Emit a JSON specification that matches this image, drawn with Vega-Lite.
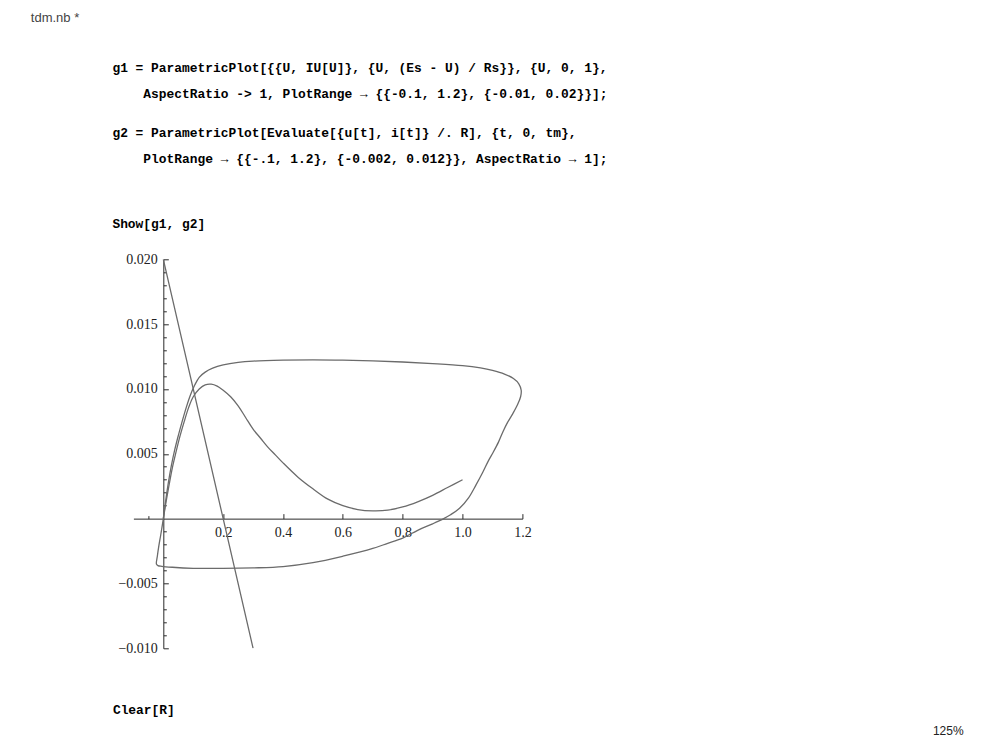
{
  "$schema": "https://vega.github.io/schema/vega-lite/v6.json",
  "width": 389,
  "height": 389,
  "autosize": {"type": "none"},
  "padding": {"left": 133.4, "top": 259.3, "right": 460.6, "bottom": 93.7},
  "background": "#ffffff",
  "config": {"view": {"stroke": null}},
  "title": {
    "text": [
      "g1 = ParametricPlot[{{U, IU[U]}, {U, (Es - U) / Rs}}, {U, 0, 1},",
      "\u200b",
      "\u200b\u00a0\u00a0\u00a0\u00a0AspectRatio -> 1, PlotRange → {{-0.1, 1.2}, {-0.01, 0.02}}];",
      "\u200b",
      "\u200b",
      "g2 = ParametricPlot[Evaluate[{u[t], i[t]} /. R], {t, 0, tm},",
      "\u200b",
      "\u200b\u00a0\u00a0\u00a0\u00a0PlotRange → {{-.1, 1.2}, {-0.002, 0.012}}, AspectRatio → 1];",
      "\u200b",
      "\u200b",
      "\u200b",
      "\u200b",
      "Show[g1, g2]"
    ],
    "anchor": "start",
    "frame": "group",
    "dx": -21,
    "offset": -220,
    "font": "Liberation Mono",
    "fontSize": 12.9,
    "fontWeight": "bold",
    "color": "#000000",
    "lineHeight": 13
  },
  "datasets": {
    "curves": [
      {"series": "g1", "i": 0, "u": 0, "current": 0},
      {"series": "g1", "i": 1, "u": 0.01, "current": 0.0014},
      {"series": "g1", "i": 2, "u": 0.02, "current": 0.0027},
      {"series": "g1", "i": 3, "u": 0.03, "current": 0.0039},
      {"series": "g1", "i": 4, "u": 0.04, "current": 0.0049},
      {"series": "g1", "i": 5, "u": 0.055, "current": 0.0063},
      {"series": "g1", "i": 6, "u": 0.07, "current": 0.0075},
      {"series": "g1", "i": 7, "u": 0.085, "current": 0.0086},
      {"series": "g1", "i": 8, "u": 0.1, "current": 0.0094},
      {"series": "g1", "i": 9, "u": 0.12, "current": 0.01},
      {"series": "g1", "i": 10, "u": 0.14, "current": 0.01032},
      {"series": "g1", "i": 11, "u": 0.16, "current": 0.01037},
      {"series": "g1", "i": 12, "u": 0.18, "current": 0.01022},
      {"series": "g1", "i": 13, "u": 0.2, "current": 0.0099},
      {"series": "g1", "i": 14, "u": 0.225, "current": 0.0094},
      {"series": "g1", "i": 15, "u": 0.25, "current": 0.0087},
      {"series": "g1", "i": 16, "u": 0.275, "current": 0.0078},
      {"series": "g1", "i": 17, "u": 0.3, "current": 0.0069},
      {"series": "g1", "i": 18, "u": 0.325, "current": 0.0062},
      {"series": "g1", "i": 19, "u": 0.35, "current": 0.0055},
      {"series": "g1", "i": 20, "u": 0.375, "current": 0.0049},
      {"series": "g1", "i": 21, "u": 0.4, "current": 0.0043},
      {"series": "g1", "i": 22, "u": 0.45, "current": 0.0032},
      {"series": "g1", "i": 23, "u": 0.5, "current": 0.0023},
      {"series": "g1", "i": 24, "u": 0.55, "current": 0.0015},
      {"series": "g1", "i": 25, "u": 0.6, "current": 0.001},
      {"series": "g1", "i": 26, "u": 0.65, "current": 0.0007},
      {"series": "g1", "i": 27, "u": 0.7, "current": 0.0006},
      {"series": "g1", "i": 28, "u": 0.75, "current": 0.00065},
      {"series": "g1", "i": 29, "u": 0.8, "current": 0.0009},
      {"series": "g1", "i": 30, "u": 0.85, "current": 0.0013},
      {"series": "g1", "i": 31, "u": 0.9, "current": 0.0018},
      {"series": "g1", "i": 32, "u": 0.95, "current": 0.0024},
      {"series": "g1", "i": 33, "u": 1.0, "current": 0.003},
      {"series": "g2", "i": 0, "u": 0, "current": 0},
      {"series": "g2", "i": 1, "u": 0.008, "current": 0.0014},
      {"series": "g2", "i": 2, "u": 0.017, "current": 0.0028},
      {"series": "g2", "i": 3, "u": 0.027, "current": 0.0041},
      {"series": "g2", "i": 4, "u": 0.038, "current": 0.0053},
      {"series": "g2", "i": 5, "u": 0.05, "current": 0.0064},
      {"series": "g2", "i": 6, "u": 0.063, "current": 0.0075},
      {"series": "g2", "i": 7, "u": 0.077, "current": 0.0086},
      {"series": "g2", "i": 8, "u": 0.09, "current": 0.0095},
      {"series": "g2", "i": 9, "u": 0.105, "current": 0.0103},
      {"series": "g2", "i": 10, "u": 0.12, "current": 0.0109},
      {"series": "g2", "i": 11, "u": 0.14, "current": 0.0113},
      {"series": "g2", "i": 12, "u": 0.165, "current": 0.0116},
      {"series": "g2", "i": 13, "u": 0.2, "current": 0.01185},
      {"series": "g2", "i": 14, "u": 0.25, "current": 0.01205},
      {"series": "g2", "i": 15, "u": 0.3, "current": 0.01215},
      {"series": "g2", "i": 16, "u": 0.4, "current": 0.01222},
      {"series": "g2", "i": 17, "u": 0.5, "current": 0.01224},
      {"series": "g2", "i": 18, "u": 0.6, "current": 0.01222},
      {"series": "g2", "i": 19, "u": 0.7, "current": 0.01217},
      {"series": "g2", "i": 20, "u": 0.8, "current": 0.01208},
      {"series": "g2", "i": 21, "u": 0.9, "current": 0.01196},
      {"series": "g2", "i": 22, "u": 1.0, "current": 0.0118},
      {"series": "g2", "i": 23, "u": 1.06, "current": 0.01162},
      {"series": "g2", "i": 24, "u": 1.1, "current": 0.01143},
      {"series": "g2", "i": 25, "u": 1.14, "current": 0.01115},
      {"series": "g2", "i": 26, "u": 1.17, "current": 0.0108},
      {"series": "g2", "i": 27, "u": 1.188, "current": 0.0104},
      {"series": "g2", "i": 28, "u": 1.196, "current": 0.0099},
      {"series": "g2", "i": 29, "u": 1.194, "current": 0.0094},
      {"series": "g2", "i": 30, "u": 1.184, "current": 0.0088},
      {"series": "g2", "i": 31, "u": 1.168, "current": 0.0081},
      {"series": "g2", "i": 32, "u": 1.15, "current": 0.0074},
      {"series": "g2", "i": 33, "u": 1.135, "current": 0.0067},
      {"series": "g2", "i": 34, "u": 1.12, "current": 0.0059},
      {"series": "g2", "i": 35, "u": 1.102, "current": 0.0051},
      {"series": "g2", "i": 36, "u": 1.085, "current": 0.0044},
      {"series": "g2", "i": 37, "u": 1.068, "current": 0.0036},
      {"series": "g2", "i": 38, "u": 1.045, "current": 0.0026},
      {"series": "g2", "i": 39, "u": 1.02, "current": 0.0016},
      {"series": "g2", "i": 40, "u": 0.99, "current": 0.0008},
      {"series": "g2", "i": 41, "u": 0.96, "current": 0.0003},
      {"series": "g2", "i": 42, "u": 0.937, "current": 0.0},
      {"series": "g2", "i": 43, "u": 0.9, "current": -0.0004},
      {"series": "g2", "i": 44, "u": 0.85, "current": -0.0009},
      {"series": "g2", "i": 45, "u": 0.8, "current": -0.0015},
      {"series": "g2", "i": 46, "u": 0.75, "current": -0.0019},
      {"series": "g2", "i": 47, "u": 0.7, "current": -0.0023},
      {"series": "g2", "i": 48, "u": 0.6, "current": -0.0029},
      {"series": "g2", "i": 49, "u": 0.5, "current": -0.0034},
      {"series": "g2", "i": 50, "u": 0.4, "current": -0.0037},
      {"series": "g2", "i": 51, "u": 0.3, "current": -0.0038},
      {"series": "g2", "i": 52, "u": 0.2, "current": -0.00384},
      {"series": "g2", "i": 53, "u": 0.1, "current": -0.00383},
      {"series": "g2", "i": 54, "u": 0.03, "current": -0.00375},
      {"series": "g2", "i": 55, "u": -0.005, "current": -0.00368},
      {"series": "g2", "i": 56, "u": -0.018, "current": -0.00362},
      {"series": "g2", "i": 57, "u": -0.023, "current": -0.0035},
      {"series": "g2", "i": 58, "u": -0.02, "current": -0.0029},
      {"series": "g2", "i": 59, "u": -0.015, "current": -0.0021},
      {"series": "g2", "i": 60, "u": -0.009, "current": -0.0013},
      {"series": "g2", "i": 61, "u": -0.004, "current": -0.0006},
      {"series": "g2", "i": 62, "u": 0, "current": 0},
      {"series": "load", "i": 0, "u": 0, "current": 0.02},
      {"series": "load", "i": 1, "u": 0.1, "current": 0.01},
      {"series": "load", "i": 2, "u": 0.2, "current": 0.0},
      {"series": "load", "i": 3, "u": 0.3, "current": -0.01}
    ]
  },
  "data": {"name": "curves"},
  "resolve": {"axis": {"y": "independent"}},
  "layer": [
    {
      "transform": [{"filter": "datum.series !== 'load'"}],
      "mark": {"type": "line", "color": "#6b6b6b", "strokeWidth": 1.3, "clip": true, "interpolate": "catmull-rom"},
      "encoding": {
        "x": {
          "field": "u", "type": "quantitative",
          "scale": {"domain": [-0.1, 1.2], "nice": false, "zero": false},
          "axis": {
            "orient": "bottom",
            "offset": -129.67,
            "values": [-0.05, 0.05, 0.1, 0.15, 0.2, 0.25, 0.3, 0.35, 0.4, 0.45, 0.5, 0.55, 0.6, 0.65, 0.7, 0.75, 0.8, 0.85, 0.9, 0.95, 1.0, 1.05, 1.1, 1.15, 1.2],
            "grid": false,
            "domainColor": "#2a2a2a",
            "domainWidth": 1,
            "tickColor": "#2a2a2a",
            "tickWidth": 1,
            "tickSize": {"condition": {"test": "abs(datum.value*5 - round(datum.value*5)) < 1e-6", "value": -5}, "value": -3},
            "labelExpr": "abs(datum.value*5 - round(datum.value*5)) < 1e-6 ? format(datum.value, '.1f') : ''",
            "labelFont": "Liberation Serif",
            "labelFontSize": 14,
            "labelColor": "#222222",
            "labelPadding": 12,
            "labelOverlap": false,
            "labelBound": false,
            "labelFlush": false,
            "title": "Clear[R]",
            "titleX": -21,
            "titleY": 191,
            "titleAlign": "left",
            "titleBaseline": "middle",
            "titleAngle": 0,
            "titleFont": "Liberation Mono",
            "titleFontSize": 12.9,
            "titleFontWeight": "bold",
            "titleColor": "#000000"
          }
        },
        "y": {
          "field": "current", "type": "quantitative",
          "scale": {"domain": [-0.01, 0.02], "nice": false, "zero": false},
          "axis": {
            "orient": "left",
            "offset": -29.92,
            "values": [-0.01, -0.009, -0.008, -0.007, -0.006, -0.005, -0.004, -0.003, -0.002, -0.001, 0.001, 0.002, 0.003, 0.004, 0.005, 0.006, 0.007, 0.008, 0.009, 0.01, 0.011, 0.012, 0.013, 0.014, 0.015, 0.016, 0.017, 0.018, 0.019, 0.02],
            "grid": false,
            "domainColor": "#2a2a2a",
            "domainWidth": 1,
            "tickColor": "#2a2a2a",
            "tickWidth": 1,
            "tickSize": {"condition": {"test": "abs(datum.value*200 - round(datum.value*200)) < 1e-6", "value": -5}, "value": -3},
            "labelExpr": "abs(datum.value*200 - round(datum.value*200)) < 1e-6 ? format(datum.value, '.3f') : ''",
            "labelFont": "Liberation Serif",
            "labelFontSize": 14,
            "labelColor": "#222222",
            "labelPadding": 11,
            "labelOverlap": false,
            "labelBound": false,
            "labelFlush": false,
            "title": "tdm.nb *",
            "titleX": -133,
            "titleY": -242,
            "titleAlign": "left",
            "titleBaseline": "middle",
            "titleAngle": 0,
            "titleFont": "Liberation Sans",
            "titleFontSize": 13,
            "titleFontWeight": "normal",
            "titleColor": "#444444"
          }
        },
        "detail": {"field": "series"},
        "order": {"field": "i", "type": "quantitative"}
      }
    },
    {
      "transform": [{"filter": "datum.series === 'load'"}],
      "mark": {"type": "line", "color": "#6b6b6b", "strokeWidth": 1.3, "clip": true},
      "encoding": {
        "x": {"field": "u", "type": "quantitative", "scale": {"domain": [-0.1, 1.2], "nice": false, "zero": false}},
        "y": {
          "field": "current", "type": "quantitative",
          "scale": {"domain": [-0.01, 0.02], "nice": false, "zero": false},
          "axis": {
            "orient": "right",
            "domain": false,
            "ticks": false,
            "labels": false,
            "grid": false,
            "title": "125%",
            "titleX": 410,
            "titleY": 471,
            "titleAlign": "left",
            "titleBaseline": "middle",
            "titleAngle": 0,
            "titleFont": "Liberation Sans",
            "titleFontSize": 12,
            "titleFontWeight": "normal",
            "titleColor": "#222222"
          }
        },
        "order": {"field": "i", "type": "quantitative"}
      }
    }
  ]
}
